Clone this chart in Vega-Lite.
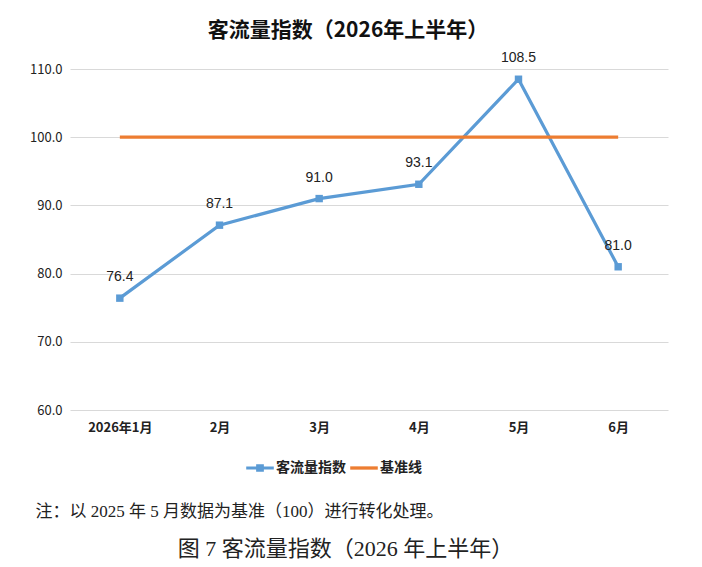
{
  "$schema": "https://vega.github.io/schema/vega-lite/v6.json",
  "width": 598,
  "height": 341,
  "autosize": {"type": "none"},
  "padding": {"left": 70, "top": 69, "right": 34, "bottom": 157},
  "background": "white",
  "config": {"view": {"stroke": null}, "font": "Noto Sans CJK SC"},
  "title": {
    "text": "客流量指数（2026年上半年）",
    "fontSize": 21,
    "fontWeight": "bold",
    "color": "#111111",
    "anchor": "middle",
    "dx": -21,
    "offset": 10,
    "font": "Noto Sans CJK SC"
  },
  "data": {
    "values": [
      {"month": "2026年1月", "series": "客流量指数", "value": 76.4},
      {"month": "2月", "series": "客流量指数", "value": 87.1},
      {"month": "3月", "series": "客流量指数", "value": 91.0},
      {"month": "4月", "series": "客流量指数", "value": 93.1},
      {"month": "5月", "series": "客流量指数", "value": 108.5},
      {"month": "6月", "series": "客流量指数", "value": 81.0},
      {"month": "2026年1月", "series": "基准线", "value": 100},
      {"month": "2月", "series": "基准线", "value": 100},
      {"month": "3月", "series": "基准线", "value": 100},
      {"month": "4月", "series": "基准线", "value": 100},
      {"month": "5月", "series": "基准线", "value": 100},
      {"month": "6月", "series": "基准线", "value": 100}
    ]
  },
  "encoding": {
    "x": {
      "field": "month",
      "type": "ordinal",
      "sort": null,
      "axis": {
        "labelAngle": 0,
        "domain": false,
        "ticks": false,
        "grid": false,
        "labelPadding": 11,
        "labelFontSize": 13,
        "labelFontWeight": "bold",
        "labelColor": "#222222",
        "title": "注：以 2025 年 5 月数据为基准（100）进行转化处理。",
        "titleX": -35,
        "titleY": 106,
        "titleAlign": "left",
        "titleAnchor": null,
        "titleBaseline": "alphabetic",
        "titleFontSize": 17,
        "titleFontWeight": "normal",
        "titleFont": "Liberation Serif, Noto Sans CJK SC",
        "titleColor": "#222222"
      }
    },
    "y": {
      "field": "value",
      "type": "quantitative",
      "scale": {"domain": [60, 110], "nice": false, "zero": false},
      "axis": {
        "values": [60, 70, 80, 90, 100, 110],
        "format": ".1f",
        "grid": true,
        "gridColor": "#D9D9D9",
        "gridWidth": 1,
        "domain": false,
        "ticks": false,
        "labelPadding": 8,
        "labelFontSize": 13,
        "labelColor": "#222222",
        "title": "图 7 客流量指数（2026 年上半年）",
        "titleAngle": 0,
        "titleX": 275,
        "titleY": 486,
        "titleAlign": "center",
        "titleAnchor": null,
        "titleBaseline": "alphabetic",
        "titleFontSize": 22,
        "titleFontWeight": "normal",
        "titleFont": "Liberation Serif, Noto Sans CJK SC",
        "titleColor": "#222222"
      }
    },
    "color": {
      "field": "series",
      "type": "nominal",
      "scale": {"domain": ["客流量指数", "基准线"], "range": ["#5B9BD5", "#ED7D31"]},
      "legend": {
        "orient": "none",
        "legendX": 176,
        "legendY": 385,
        "direction": "horizontal",
        "title": null,
        "symbolSize": 760,
        "symbolOpacity": 1,
        "symbolStrokeWidth": 0,
        "labelFontSize": 14,
        "labelFontWeight": "bold",
        "labelColor": "#222222",
        "labelOffset": 2,
        "columnPadding": 4
      }
    }
  },
  "layer": [
    {"mark": {"type": "line", "strokeWidth": 3.2}},
    {
      "transform": [{"filter": "datum.series === '客流量指数'"}],
      "mark": {"type": "point", "shape": "square", "filled": true, "size": 55, "opacity": 1}
    },
    {
      "transform": [{"filter": "datum.series === '客流量指数'"}],
      "mark": {"type": "text", "dy": -21, "fontSize": 14, "color": "#222222", "font": "Liberation Sans"},
      "encoding": {"text": {"field": "value", "type": "quantitative", "format": ".1f"}, "color": {"value": "#222222"}}
    },
    {
      "mark": {"type": "point", "filled": true, "opacity": 0},
      "encoding": {
        "shape": {
          "field": "series",
          "type": "nominal",
          "scale": {
            "domain": ["客流量指数", "基准线"],
            "range": ["M-1,-0.11H1V0.11H-1Z M-0.28,-0.28H0.28V0.28H-0.28Z", "M-1,-0.12H1V0.12H-1Z"]
          },
          "legend": {
            "orient": "none",
            "legendX": 176,
            "legendY": 385,
            "direction": "horizontal",
            "title": null,
            "symbolSize": 760,
            "symbolOpacity": 1,
            "symbolStrokeWidth": 0,
            "labelFontSize": 14,
            "labelFontWeight": "bold",
            "labelColor": "#222222",
            "labelOffset": 2,
            "columnPadding": 4
          }
        }
      }
    }
  ]
}
